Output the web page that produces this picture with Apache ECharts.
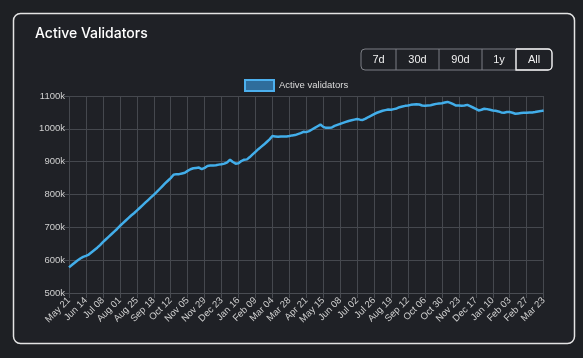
<!DOCTYPE html>
<html>
<head>
<meta charset="utf-8">
<script src="https://cdn.jsdelivr.net/npm/echarts@6/dist/echarts.min.js"></script>
<style>
html,body{margin:0;padding:0;background:#1e2024;}
#c{width:583px;height:358px;}
</style>
</head>
<body>
<div id="c"></div>
<script>
// Start date of the series and spacing between samples (days)
const startDate = [2023, 4, 21]; // May 21 2023
const stepDays = 4;
// Active validators (thousands), one value every 4 days, May 21 2023 -> Mar 23 2025
const activeValidators = [
  578, 585, 592, 599, 605, 610,
  613, 617, 624, 631, 638, 646,
  655, 663, 671, 679, 687, 695,
  704, 712, 720, 728, 736, 743,
  751, 759, 767, 775, 783, 791,
  799, 807, 816, 825, 834, 842,
  850, 860, 862, 862, 864, 866,
  872, 877, 880, 881, 882, 877,
  881, 887, 888, 888, 889, 891,
  892, 894, 898, 906, 899, 894,
  895, 902, 906, 907, 914, 922,
  930, 938, 945, 952, 960, 968,
  978, 977, 976, 977, 977, 977,
  978, 980, 981, 984, 987, 991,
  990, 993, 998, 1003, 1008, 1013,
  1006, 1003, 1003, 1004, 1009, 1012,
  1015, 1018, 1021, 1024, 1026, 1028,
  1030, 1028, 1027, 1031, 1036, 1040,
  1045, 1049, 1052, 1055, 1057, 1059,
  1058, 1060, 1062, 1066, 1068, 1070,
  1071, 1073, 1074, 1075, 1074, 1071,
  1070, 1071, 1072, 1074, 1076, 1077,
  1078, 1080, 1082, 1079, 1075, 1071,
  1071, 1070, 1071, 1073, 1069, 1065,
  1061, 1056, 1058, 1061, 1060, 1058,
  1056, 1055, 1053, 1050, 1049, 1051,
  1051, 1049, 1046, 1047, 1048, 1049,
  1049, 1050, 1050, 1051, 1053, 1054,
  1056
];
const seriesName = 'Active validators';
const rangeButtons = ['7d', '30d', '90d', '1y', 'All'];
const yTicks = [500, 600, 700, 800, 900, 1000, 1100];

const monthNames = ['Jan','Feb','Mar','Apr','May','Jun','Jul','Aug','Sep','Oct','Nov','Dec'];
const categories = activeValidators.map((_, i) => {
  const d = new Date(Date.UTC(startDate[0], startDate[1], startDate[2] + i * stepDays));
  return monthNames[d.getUTCMonth()] + ' ' + String(d.getUTCDate()).padStart(2, '0');
});

const FONT = '"Liberation Sans", Arial, sans-serif';
// buttons layout
const btnX = [361, 396, 439, 482, 516, 552];
const btnTop = 49, btnH = 21;
const btnGraphics = [];
btnGraphics.push({type:'rect', shape:{x:btnX[0], y:btnTop, width:btnX[5]-btnX[0], height:btnH, r:4}, style:{fill:'none', stroke:'#7c7f85', lineWidth:1}});
for (let i = 1; i < rangeButtons.length; i++) {
  btnGraphics.push({type:'line', shape:{x1:btnX[i], y1:btnTop, x2:btnX[i], y2:btnTop+btnH}, style:{stroke:'#7c7f85', lineWidth:1}});
}
btnGraphics.push({type:'rect', shape:{x:btnX[4], y:btnTop, width:btnX[5]-btnX[4], height:btnH, r:[0,4,4,0]}, style:{fill:'none', stroke:'#f2f2f2', lineWidth:1.3}});
rangeButtons.forEach((b, i) => {
  btnGraphics.push({type:'text', x:(btnX[i] + btnX[i+1]) / 2, y:btnTop + btnH/2 + 0.5,
    style:{text:b, fill:'#f0f0f0', font:'500 11px ' + FONT, textAlign:'center', textVerticalAlign:'middle'}});
});

const chart = echarts.init(document.getElementById('c'));
chart.setOption({
  backgroundColor: '#1e2024',
  animation: false,
  graphic: [
    {type:'rect', z:-10, shape:{x:13.5, y:13.5, width:561, height:330, r:7}, style:{fill:'#1f2126', stroke:'#e4e4e4', lineWidth:1.5}},
    {type:'text', x:35, y:34, style:{text:'Active Validators', fill:'#ffffff', font:'500 14px Inter, ' + FONT, textVerticalAlign:'middle'}},
    ...btnGraphics
  ],
  legend: {
    left: 239, top: 74,
    icon: 'rect',
    itemWidth: 29, itemHeight: 11, itemGap: 8,
    textStyle: {color:'#dcdcdc', fontSize:9.5, fontFamily:FONT},
    itemStyle: {color:'#2f6d9c', borderColor:'#4cb0ee', borderWidth:2},
    data: [seriesName]
  },
  grid: {left: 69, right: 39.4, top: 96, bottom: 65, containLabel: false},
  xAxis: {
    type: 'category',
    data: categories,
    boundaryGap: false,
    axisLine: {lineStyle:{color:'#4a4d53'}},
    axisTick: {show:true, length:5, interval:5, lineStyle:{color:'#4a4d53'}},
    axisLabel: {interval:5, rotate:45, color:'#d0d0d0', fontSize:9.5, fontFamily:FONT, margin:6},
    splitLine: {show:true, interval:5, lineStyle:{color:'#45484e', width:1}}
  },
  yAxis: {
    type: 'value',
    min: yTicks[0], max: yTicks[yTicks.length-1], interval: 100,
    axisLine: {show:false},
    axisTick: {show:true, length:5, lineStyle:{color:'#4a4d53'}},
    axisLabel: {color:'#d0d0d0', fontSize:9.5, fontFamily:FONT, margin:4, formatter: v => v + 'k'},
    splitLine: {show:true, lineStyle:{color:'#45484e', width:1}}
  },
  series: [{
    name: seriesName,
    type: 'line',
    data: activeValidators,
    showSymbol: false,
    symbol: 'none',
    lineStyle: {color:'#42aeea', width:2.5},
    itemStyle: {color:'#42aeea'}
  }]
});
</script>
</body>
</html>
